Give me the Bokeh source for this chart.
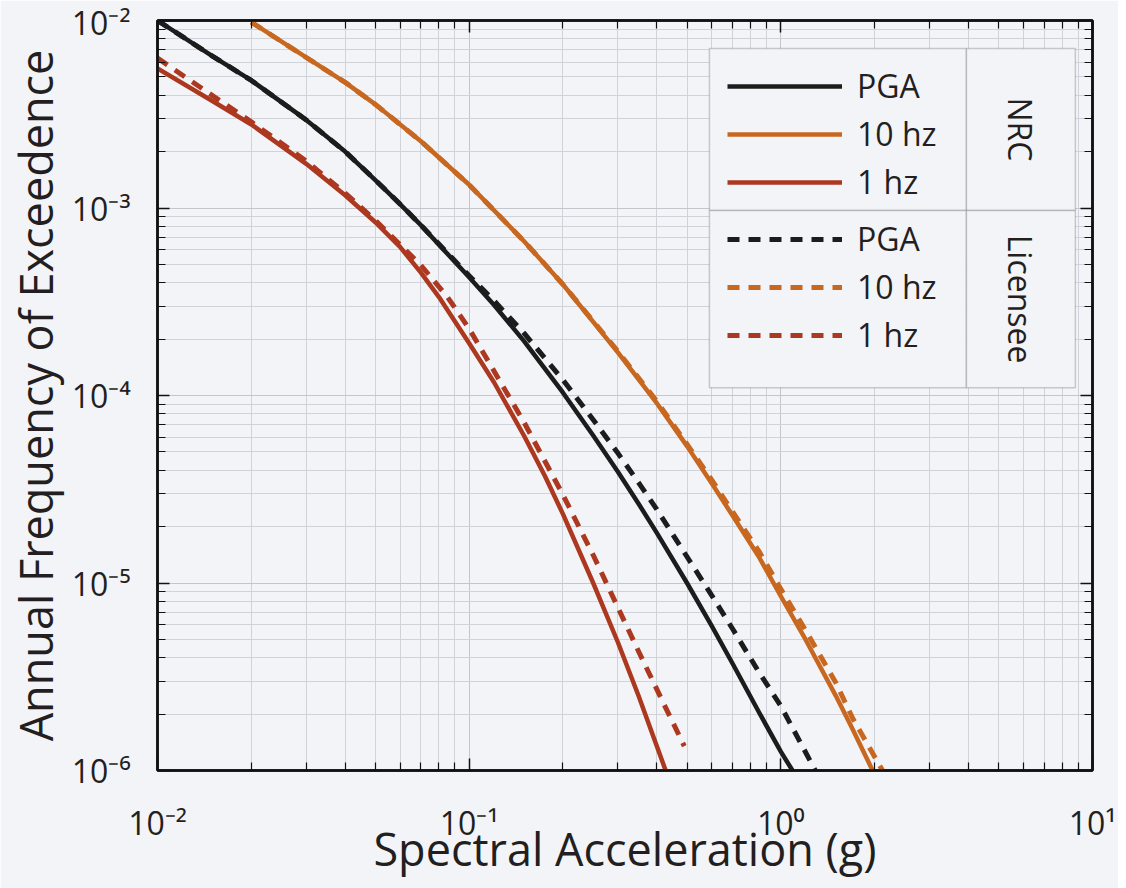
import math
from bokeh.plotting import figure
from bokeh.models import (Range1d, FixedTicker, CustomJSTickFormatter, LogAxis, Legend,
                          LegendItem, BoxAnnotation, Label)
from bokeh.embed import file_html
from bokeh.resources import INLINE

# ---------------- data ----------------
SA_PGA_NRC = [0.01, 0.015, 0.02, 0.03, 0.04, 0.05, 0.06, 0.07, 0.1, 0.12, 0.15, 0.2, 0.25, 0.3, 0.35,
              0.4, 0.5, 0.6, 0.7, 0.85, 1.0, 1.09]
AFE_PGA_NRC = [1.0e-2, 6.46e-3, 4.79e-3, 2.95e-3, 2.0e-3, 1.41e-3, 1.05e-3, 8.1e-4, 4.27e-4, 3.05e-4,
               1.95e-4, 1.035e-4, 6.12e-5, 3.92e-5, 2.64e-5, 1.85e-5, 1.0e-5, 5.9e-6, 3.72e-6, 2.05e-6,
               1.26e-6, 1.0e-6]

SA_PGA_LIC = [0.01, 0.015, 0.02, 0.03, 0.04, 0.05, 0.06, 0.07, 0.1, 0.12, 0.15, 0.2, 0.25, 0.3, 0.35,
              0.4, 0.5, 0.6, 0.7, 0.85, 1.0, 1.29]
AFE_PGA_LIC = [1.0e-2, 6.46e-3, 4.79e-3, 2.95e-3, 2.0e-3, 1.41e-3, 1.05e-3, 8.1e-4, 4.35e-4, 3.21e-4,
               2.15e-4, 1.21e-4, 7.43e-5, 4.93e-5, 3.42e-5, 2.47e-5, 1.38e-5, 8.6e-6, 5.7e-6, 3.35e-6,
               2.21e-6, 1.0e-6]

SA_10HZ_NRC = [0.02, 0.03, 0.04, 0.05, 0.07, 0.1, 0.15, 0.2, 0.3, 0.4, 0.5, 0.6, 0.7, 0.85, 1.0,
               1.2, 1.5, 1.7, 1.97]
AFE_10HZ_NRC = [9.8e-3, 6.35e-3, 4.68e-3, 3.57e-3, 2.27e-3, 1.33e-3, 6.65e-4, 3.91e-4, 1.70e-4, 9.1e-5,
                5.37e-5, 3.4e-5, 2.29e-5, 1.38e-5, 8.5e-6, 5.0e-6, 2.51e-6, 1.66e-6, 1.0e-6]

SA_10HZ_LIC = [0.02, 0.03, 0.04, 0.05, 0.07, 0.1, 0.15, 0.2, 0.3, 0.4, 0.5, 0.6, 0.7, 0.85, 1.0,
               1.2, 1.5, 1.7, 2.12]
AFE_10HZ_LIC = [9.8e-3, 6.35e-3, 4.68e-3, 3.57e-3, 2.27e-3, 1.33e-3, 6.65e-4, 3.91e-4, 1.72e-4, 9.3e-5,
                5.5e-5, 3.55e-5, 2.4e-5, 1.48e-5, 9.3e-6, 5.6e-6, 2.95e-6, 1.9e-6, 1.0e-6]

SA_1HZ_NRC = [0.01, 0.015, 0.02, 0.03, 0.04, 0.05, 0.06, 0.07, 0.08, 0.1, 0.12, 0.15, 0.175, 0.2,
              0.25, 0.3, 0.35, 0.427]
AFE_1HZ_NRC = [5.55e-3, 3.72e-3, 2.79e-3, 1.72e-3, 1.17e-3, 8.4e-4, 6.2e-4, 4.52e-4, 3.35e-4, 1.9e-4,
               1.18e-4, 6.1e-5, 3.72e-5, 2.33e-5, 1.0e-5, 4.83e-6, 2.49e-6, 1.0e-6]

SA_1HZ_LIC = [0.01, 0.015, 0.02, 0.03, 0.04, 0.05, 0.07, 0.085, 0.1, 0.15, 0.2, 0.25, 0.3, 0.35, 0.42,
              0.49]
AFE_1HZ_LIC = [6.3e-3, 3.98e-3, 2.88e-3, 1.78e-3, 1.2e-3, 8.6e-4, 4.95e-4, 3.37e-4, 2.27e-4, 7.2e-5,
               2.95e-5, 1.41e-5, 7.4e-6, 4.3e-6, 2.29e-6, 1.35e-6]

SERIES_LABELS = ["PGA", "10 hz", "1 hz"]
GROUP_LABELS = ["NRC", "Licensee"]

X_TICKS = [0.01, 0.1, 1.0, 10.0]
X_TICK_LABELS = ["10\u207b\u00b2", "10\u207b\u00b9", "10\u2070", "10\u00b9"]
Y_TICKS = [1e-6, 1e-5, 1e-4, 1e-3, 1e-2]
Y_TICK_LABELS = ["10\u207b\u2076", "10\u207b\u2075", "10\u207b\u2074", "10\u207b\u00b3", "10\u207b\u00b2"]

X_LABEL = "Spectral Acceleration (g)"
Y_LABEL = "Annual Frequency of Exceedence"

# ---------------- style ----------------
FONT = "Open Sans"
TXT = "#231f20"
BG = "#f3f4f8"
C_BLACK = "#1c1c1c"
C_ORANGE = "#c8671f"
C_RED = "#ad3820"
GRID = "#c3c6cd"
MINOR_GRID = "#d0d3d9"
DASH = "12 9"

p = figure(width=1118, height=888, x_axis_type="log", y_axis_type="log",
           x_range=Range1d(0.01, 10), y_range=Range1d(1e-6, 1e-2),
           output_backend="svg", toolbar_location=None,
           min_border_left=157, min_border_right=26, min_border_top=20, min_border_bottom=118)
p.background_fill_color = BG
p.border_fill_color = BG
p.outline_line_color = "#111111"
p.outline_line_width = 2.5

x_minor = [m * 10.0 ** e for e in range(-2, 1) for m in range(2, 10)]
y_minor = [m * 10.0 ** e for e in range(-6, -2) for m in range(2, 10)]
xt = FixedTicker(ticks=X_TICKS, minor_ticks=x_minor)
yt = FixedTicker(ticks=Y_TICKS, minor_ticks=y_minor)
blank = CustomJSTickFormatter(code="return ''")
LOOKUP = """
const i = tvals.findIndex(t => Math.abs(Math.log10(t) - Math.log10(tick)) < 1e-6);
return i >= 0 ? tlabs[i] : '';
"""
x_fmt = CustomJSTickFormatter(args=dict(tvals=X_TICKS, tlabs=X_TICK_LABELS), code=LOOKUP)
y_fmt = CustomJSTickFormatter(args=dict(tvals=Y_TICKS, tlabs=Y_TICK_LABELS), code=LOOKUP)


def style_axis(ax, ticker, fmt):
    ax.ticker = ticker
    ax.formatter = fmt
    ax.major_tick_in = 12
    ax.major_tick_out = 0
    ax.minor_tick_in = 8
    ax.minor_tick_out = 0
    ax.major_tick_line_color = "#111111"
    ax.minor_tick_line_color = "#111111"
    ax.major_tick_line_width = 1.5
    ax.minor_tick_line_width = 1.2
    ax.axis_line_color = "#111111"
    ax.axis_line_width = 2.5
    ax.major_label_standoff = 0
    ax.major_label_text_font = FONT
    ax.major_label_text_font_size = "32px"
    ax.major_label_text_color = TXT


bottom_ax = p.xaxis[0]
left_ax = p.yaxis[0]
style_axis(bottom_ax, xt, x_fmt)
style_axis(left_ax, yt, y_fmt)
bottom_ax.major_label_standoff = 30
left_ax.major_label_standoff = 27
top_ax = LogAxis()
right_ax = LogAxis()
style_axis(top_ax, xt, blank)
style_axis(right_ax, yt, blank)
p.add_layout(top_ax, "above")
p.add_layout(right_ax, "right")

for ax, lab, so in ((bottom_ax, X_LABEL, -29), (left_ax, Y_LABEL, 3)):
    ax.axis_label = lab
    ax.axis_label_text_font = FONT
    ax.axis_label_text_font_size = "45px"
    ax.axis_label_text_font_style = "normal"
    ax.axis_label_text_color = TXT
    ax.axis_label_standoff = so

for g in (p.xgrid[0], p.ygrid[0]):
    g.grid_line_color = GRID
    g.grid_line_width = 1
    g.minor_grid_line_color = MINOR_GRID
    g.minor_grid_line_width = 1

# ---------------- curves ----------------
curves = [
    (SA_PGA_NRC, AFE_PGA_NRC, C_BLACK, "solid"),
    (SA_10HZ_NRC, AFE_10HZ_NRC, C_ORANGE, "solid"),
    (SA_1HZ_NRC, AFE_1HZ_NRC, C_RED, "solid"),
    (SA_PGA_LIC, AFE_PGA_LIC, C_BLACK, DASH),
    (SA_10HZ_LIC, AFE_10HZ_LIC, C_ORANGE, DASH),
    (SA_1HZ_LIC, AFE_1HZ_LIC, C_RED, DASH),
]
rends = []
for xs, ys, col, dash in curves:
    r = p.line(xs, ys, line_color=col, line_width=4.5 if dash == "solid" else 5,
               line_dash=dash, line_join="round")
    rends.append(r)

# ---------------- legend frame (2 x 2 cells) ----------------
LX0, LX1, LX2 = 0.590, 3.94, 8.81
LY0, LY1, LY2 = 7.10e-3, 9.7e-4, 1.10e-4
for (l, r_), (t, b) in [((LX0, LX1), (LY0, LY1)), ((LX1, LX2), (LY0, LY1)),
                        ((LX0, LX1), (LY1, LY2)), ((LX1, LX2), (LY1, LY2))]:
    p.add_layout(BoxAnnotation(left=l, right=r_, top=t, bottom=b, fill_color=BG, fill_alpha=1,
                               line_color="#5e6068", line_width=1.5))

xc = 10 ** ((math.log10(LX1) + math.log10(LX2)) / 2)
for lab, (t, b) in zip(GROUP_LABELS, [(LY0, LY1), (LY1, LY2)]):
    yc = 10 ** ((math.log10(t) + math.log10(b)) / 2)
    p.add_layout(Label(x=xc, y=yc, text=lab, angle=-math.pi / 2, text_align="center",
                       text_baseline="middle", text_font=FONT, text_font_size="32px",
                       text_color=TXT))


def make_legend(items, loc):
    return Legend(items=items, location=loc, orientation="vertical",
                  label_text_font=FONT, label_text_font_size="32px", label_text_color=TXT,
                  glyph_width=115, glyph_height=20, label_height=20, label_standoff=15,
                  spacing=5, padding=0, margin=0, border_line_color=None,
                  background_fill_alpha=0)


leg1 = make_legend([LegendItem(label=SERIES_LABELS[i], renderers=[rends[i]]) for i in range(3)],
                   (570, 567))
leg2 = make_legend([LegendItem(label=SERIES_LABELS[i], renderers=[rends[3 + i]]) for i in range(3)],
                   (570, 414))
p.add_layout(leg1, "center")
p.add_layout(leg2, "center")

open("out.html", "w").write(file_html(p, INLINE))
